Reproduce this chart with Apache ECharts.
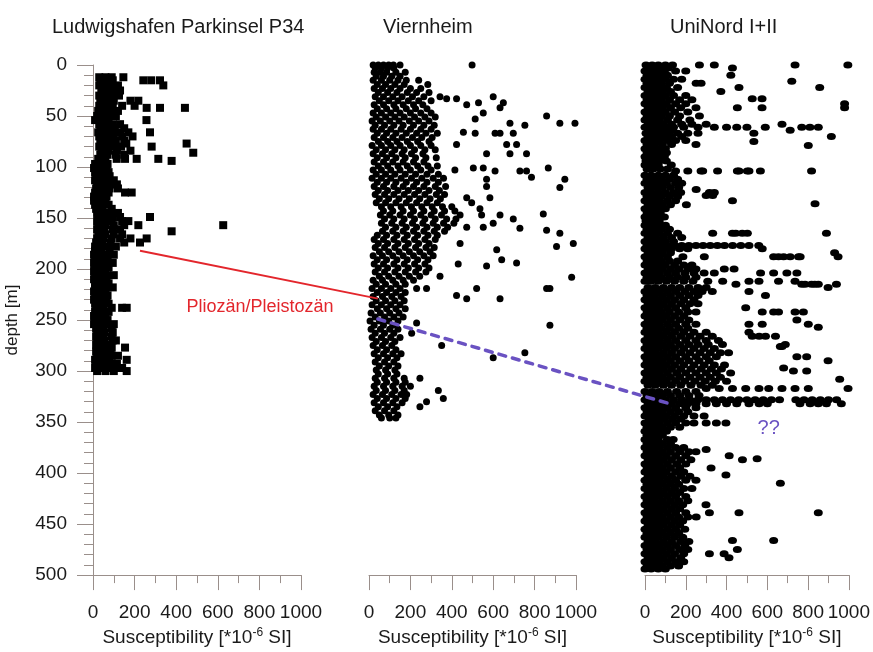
<!DOCTYPE html>
<html>
<head>
<meta charset="utf-8">
<title>Susceptibility logs</title>
<script src="https://cdn.jsdelivr.net/npm/echarts@6/dist/echarts.min.js"></script>
<style>
  html, body { margin: 0; padding: 0; background: #fff; }
  #myChart { width: 873px; height: 652px; }
</style>
</head>
<body>
<div id="myChart"></div>
<script>
// borehole names (panel titles)
var wellNames = ['Ludwigshafen Parkinsel P34', 'Viernheim', 'UniNord I+II']
var depthTicks = { min: 0, max: 500, step: 50 }
var suscTicks = { min: 0, max: 1000, step: 200 }

// rows: [depth m, susceptibility values ...]
var p34Rows = [
  [12, 30, 60, 90, 146], [15, 35, 65, 95, 242, 280, 322], [20, 30, 55, 85, 120, 338],
  [25, 40, 70, 100, 130], [30, 30, 60, 90, 125], [35, 35, 70, 100, 180, 218],
  [40, 30, 60, 95, 140, 200], [42, 258, 322, 442], [45, 25, 55, 85, 120],
  [50, 20, 50, 80, 110], [54, 10, 40, 75, 257], [58, 30, 60, 95, 130],
  [62, 35, 70, 105, 150], [66, 25, 60, 95, 130, 170, 274], [70, 30, 65, 100, 140, 190],
  [74, 40, 75, 110, 150], [77, 35, 70, 105, 160, 450], [80, 30, 65, 100, 135, 282],
  [84, 40, 75, 115, 180], [86, 482], [88, 35, 70, 110, 150],
  [92, 25, 60, 114, 154, 210, 314], [94, 378], [97, 10, 40, 70], [101, 5, 35, 65],
  [105, 10, 40, 75], [109, 15, 45, 80], [113, 10, 40, 70, 100], [117, 20, 50, 85, 115],
  [121, 15, 45, 80, 120], [125, 10, 40, 75, 154, 186], [129, 5, 35, 65], [133, 5, 30, 60],
  [137, 10, 40, 75], [141, 15, 45, 90], [145, 20, 55, 90, 120], [149, 25, 60, 95, 130, 274],
  [153, 20, 55, 90, 140, 170], [157, 25, 60, 100, 150, 218, 626], [161, 20, 55, 95, 130],
  [163, 378], [166, 25, 60, 100, 140], [170, 20, 50, 90, 130, 180, 258],
  [174, 15, 45, 85, 150, 226], [178, 10, 40, 75, 110], [182, 10, 40, 80],
  [186, 5, 35, 65, 100], [190, 10, 40, 70], [194, 5, 35, 65, 95], [198, 10, 40, 75],
  [202, 5, 35, 60], [206, 10, 40, 70, 100], [210, 5, 35, 65], [214, 10, 40, 75],
  [218, 10, 40, 70, 95], [222, 5, 35, 60], [226, 10, 40, 70], [230, 5, 35, 65],
  [234, 10, 40, 75], [238, 15, 50, 90, 140, 162], [242, 10, 40, 75], [246, 5, 35, 60],
  [250, 10, 40, 70], [254, 5, 35, 65, 100], [258, 15, 50, 90], [262, 20, 55, 95],
  [266, 15, 50, 90], [270, 20, 55, 95, 110], [274, 15, 50, 85], [277, 20, 55, 90, 154],
  [281, 15, 50, 85], [285, 20, 55, 90, 120], [289, 10, 45, 80, 162], [293, 15, 50, 85, 115],
  [297, 10, 40, 75, 110, 140], [300, 20, 60, 100, 162]
]

var viernheimRows = [
  [0, 20, 45, 70, 95, 118, 150, 498], [3, 30, 60, 90, 120], [7, 25, 55, 85, 130, 175],
  [11, 35, 70, 110, 150], [15, 20, 60, 100, 140, 180, 240], [19, 40, 80, 125, 170, 284],
  [23, 25, 65, 105, 150, 200, 250], [27, 45, 90, 135, 185, 230, 290],
  [31, 30, 70, 115, 160, 210, 265, 343, 600], [33, 375, 423], [35, 50, 95, 140, 190, 240, 300],
  [37, 529, 649], [39, 25, 70, 120, 165, 215, 260, 472], [42, 633],
  [43, 40, 85, 130, 180, 225, 280], [47, 20, 60, 105, 150, 200, 250, 300, 552], [50, 858],
  [51, 35, 80, 125, 170, 220, 270, 320], [53, 513], [55, 15, 55, 100, 145, 195, 240, 290],
  [57, 681, 922, 995], [59, 30, 75, 120, 165, 215, 265, 315, 753],
  [63, 20, 60, 105, 155, 200, 250, 300], [66, 456],
  [67, 40, 85, 130, 180, 230, 275, 330, 513, 609, 633, 697],
  [71, 25, 70, 115, 160, 210, 255, 305], [75, 45, 90, 135, 185, 235, 290], [78, 423, 665, 713],
  [79, 15, 60, 105, 150, 200, 250, 300], [83, 35, 80, 125, 170, 220, 270, 320],
  [87, 20, 65, 110, 160, 205, 260, 568, 681, 761], [91, 40, 85, 130, 175, 225, 275, 325],
  [95, 25, 70, 115, 165, 215, 265], [99, 45, 90, 140, 185, 235, 285, 330], [101, 504, 552, 866],
  [103, 20, 60, 105, 150, 200, 250, 300, 415], [104, 609, 729, 761],
  [107, 35, 80, 125, 175, 225, 280, 335], [110, 785], [111, 15, 60, 105, 155, 205, 255, 310, 360],
  [112, 568, 946], [115, 40, 85, 130, 180, 230, 280, 335],
  [119, 25, 70, 120, 165, 215, 265, 320, 370, 568], [120, 922],
  [123, 45, 90, 140, 190, 240, 290, 340], [127, 30, 75, 120, 170, 220, 270, 325, 365],
  [130, 472, 584], [131, 50, 95, 145, 195, 245, 295, 345],
  [135, 35, 80, 130, 180, 230, 280, 330, 496], [139, 60, 105, 155, 205, 255, 305, 355, 400],
  [141, 536], [143, 70, 115, 165, 215, 265, 315, 365, 415], [146, 842],
  [147, 55, 100, 150, 200, 250, 300, 350, 440, 544, 633],
  [151, 75, 120, 170, 220, 270, 320, 375, 420, 697],
  [155, 60, 110, 160, 210, 260, 310, 360, 410, 600],
  [159, 80, 130, 180, 230, 280, 330, 380, 472, 552], [160, 729], [162, 858],
  [163, 65, 115, 165, 215, 265, 315, 365], [165, 922], [167, 40, 85, 135, 185, 235, 285, 330],
  [171, 25, 70, 120, 170, 220, 270, 320], [175, 45, 90, 140, 190, 240, 290, 440, 987],
  [178, 906], [179, 30, 75, 125, 175, 225, 275, 315], [181, 617],
  [183, 50, 95, 145, 195, 245, 295], [187, 20, 65, 115, 165, 215, 265, 310],
  [191, 40, 85, 135, 185, 235, 285, 641], [194, 713], [195, 25, 70, 120, 170, 220, 270, 431],
  [197, 568], [199, 45, 90, 140, 190, 240, 290], [203, 30, 75, 125, 175, 225, 275],
  [207, 50, 95, 145, 195, 245, 343], [208, 979], [211, 20, 65, 115, 165, 215],
  [215, 35, 80, 130, 175], [219, 15, 60, 105, 150, 230, 278, 520, 858, 874],
  [223, 40, 85, 130, 175], [226, 423], [227, 20, 65, 110, 155], [229, 472, 633],
  [231, 35, 80, 125, 170], [235, 15, 60, 105, 150], [239, 40, 85, 130, 175],
  [243, 10, 55, 100, 145], [247, 30, 75, 120, 165], [251, 5, 50, 95, 140], [253, 230],
  [255, 25, 70, 115, 874], [259, 10, 55, 100, 140], [263, 30, 75, 120, 206],
  [267, 15, 60, 105, 150], [271, 35, 80, 125], [275, 20, 65, 110, 351], [279, 40, 85, 130],
  [282, 753], [283, 25, 70, 115, 155], [287, 45, 90, 135, 600], [291, 30, 75, 120],
  [295, 50, 95, 140], [299, 35, 80, 125], [303, 45, 90, 135], [307, 30, 75, 120, 170, 246],
  [311, 40, 85, 130, 175], [315, 25, 70, 115, 160, 200], [319, 35, 80, 125, 170, 335],
  [323, 20, 65, 110, 155, 182], [327, 40, 85, 130, 175, 359], [330, 278],
  [331, 25, 70, 115, 160], [335, 45, 90, 135, 246], [339, 30, 75, 120], [343, 50, 95, 140],
  [346, 60, 100, 130]
]

var uniNordRows = [
  [0, 5, 35, 65, 100, 135, 267, 340, 736, 995], [3, 15, 45, 80, 115, 429],
  [6, 0, 30, 60, 95, 150, 200], [10, 10, 40, 75, 110, 421], [14, 0, 30, 65, 100, 140, 180],
  [16, 720], [18, 10, 45, 80, 120, 251, 275], [22, 0, 35, 70, 105, 160, 461, 857],
  [26, 15, 50, 85, 125, 372], [30, 0, 30, 65, 100, 140, 200], [33, 526, 574],
  [34, 10, 45, 80, 120, 170, 230], [38, 0, 35, 70, 105, 150, 200, 979],
  [42, 15, 50, 85, 125, 175, 250, 453, 574, 979], [46, 0, 30, 65, 100, 145, 210],
  [50, 10, 45, 80, 120, 170, 267], [54, 0, 35, 70, 110, 160, 220],
  [58, 15, 50, 90, 130, 180, 230, 300, 672],
  [61, 0, 30, 65, 100, 140, 190, 260, 340, 400, 450, 500, 590, 769, 809, 850],
  [64, 20, 55, 95, 130, 712], [67, 5, 40, 75, 115, 160, 210, 260, 534],
  [70, 15, 50, 90, 130, 180, 914], [74, 0, 35, 70, 110, 150, 200], [75, 534],
  [78, 10, 45, 85, 130, 250], [79, 801], [82, 0, 30, 65, 100], [86, 10, 40, 75, 105],
  [90, 0, 30, 60, 95], [94, 5, 35, 70, 105], [98, 0, 30, 65, 129], [102, 10, 40, 75, 110],
  [104, 150, 210, 275, 283, 356, 453, 461, 502, 510, 566, 817],
  [108, 0, 30, 65, 100, 140], [112, 10, 45, 80, 120, 160], [116, 0, 35, 70, 105, 150, 180],
  [120, 15, 50, 85, 125, 165], [122, 251], [125, 0, 30, 65, 100, 140, 175, 316, 340],
  [128, 300, 332], [129, 10, 45, 80, 120, 160], [133, 0, 35, 70, 110, 150, 429], [136, 834],
  [137, 15, 50, 85, 125, 203], [141, 0, 30, 65, 100], [145, 10, 40, 75], [149, 0, 30, 60, 95],
  [153, 5, 35, 70], [157, 0, 30, 65, 100], [161, 10, 45, 80, 120],
  [165, 0, 35, 70, 110, 160, 332, 429, 445, 477, 502, 890], [169, 15, 50, 90, 130, 180],
  [173, 0, 30, 65, 100, 140],
  [177, 10, 40, 75, 110, 145, 180, 215, 250, 285, 320, 355, 390, 430, 470, 510, 558],
  [180, 0, 30, 60, 95, 130, 170, 210, 575], [184, 15, 50, 85, 125, 930],
  [188, 0, 35, 70, 110, 186, 291, 631, 655, 680, 712, 753, 761, 947],
  [192, 10, 45, 80, 120, 160], [196, 0, 30, 65, 100, 145, 190, 230],
  [200, 15, 50, 85, 125, 165, 210, 250, 389, 437],
  [204, 0, 35, 70, 110, 150, 195, 240, 290, 340, 567, 631, 696, 745],
  [208, 10, 45, 80, 120, 160, 200, 250],
  [212, 0, 30, 65, 105, 145, 190, 235, 308, 381, 510, 559, 655, 736],
  [215, 446, 769, 785, 817, 833, 850, 939], [218, 15, 50, 90, 130, 170, 215, 260, 300, 898],
  [222, 0, 35, 70, 110, 150, 195, 240, 280, 330, 510], [226, 10, 45, 85, 125, 170, 215, 260, 591],
  [230, 0, 30, 65, 105, 145, 190, 240], [234, 15, 50, 90, 130, 175, 220, 260],
  [238, 0, 35, 70, 110, 150, 200, 494],
  [242, 10, 45, 80, 120, 165, 210, 250, 575, 631, 655, 736, 777],
  [246, 0, 30, 65, 105, 145, 190], [250, 15, 50, 85, 125, 170, 215, 745],
  [254, 0, 35, 70, 110, 150, 200, 250, 510, 575, 801], [257, 850],
  [258, 10, 45, 80, 120, 165, 210], [262, 0, 30, 65, 105, 145, 190, 240, 300, 510],
  [266, 15, 50, 90, 130, 175, 220, 270, 330, 526, 560, 591, 640],
  [270, 0, 35, 70, 110, 150, 200, 250, 300, 360], [274, 10, 45, 85, 125, 170, 215, 260, 310, 380, 688],
  [276, 664, 672], [278, 0, 30, 65, 105, 145, 190, 240, 290, 340],
  [282, 15, 50, 90, 130, 175, 220, 270, 320, 370, 410],
  [286, 0, 35, 70, 110, 150, 200, 250, 300, 350, 745, 793],
  [290, 10, 45, 85, 125, 170, 215, 265, 315, 898],
  [294, 0, 30, 65, 105, 145, 190, 240, 290, 340, 390], [297, 680],
  [298, 15, 50, 90, 130, 175, 225, 275, 325, 375], [300, 728, 793],
  [302, 0, 35, 70, 110, 155, 200, 250, 300, 350, 420], [306, 10, 45, 85, 125, 170, 220, 270, 320, 370],
  [308, 955], [310, 0, 30, 65, 105, 150, 195, 245, 295, 345, 400],
  [314, 15, 50, 90, 130, 175, 225, 275, 330],
  [317, 300, 364, 429, 494, 559, 607, 672, 736, 801, 996],
  [320, 0, 35, 70, 110, 155, 200, 250], [324, 10, 45, 85, 125, 170, 215, 265],
  [328, 0, 30, 65, 100, 140, 180, 220, 260, 300, 340, 380, 420, 460, 500, 540, 580, 620, 660, 740, 780, 820, 860, 900, 940],
  [332, 15, 50, 90, 130, 170, 210, 250, 300, 350, 400, 450, 510, 560, 600, 760, 810, 850, 890, 963],
  [336, 0, 35, 70, 110, 150, 200, 250], [340, 10, 45, 85, 125, 165, 210],
  [344, 0, 30, 65, 105, 145, 190, 240, 290], [347, 20, 55, 95, 135, 175],
  [351, 0, 35, 70, 110, 150, 200, 240, 300, 350, 397], [355, 10, 45, 85, 125, 170],
  [359, 0, 30, 65, 105], [363, 10, 45, 85], [367, 0, 30, 65, 110, 138], [371, 10, 45, 85, 125],
  [375, 0, 35, 70, 110, 150, 190], [377, 300], [379, 10, 45, 85, 125, 170, 215, 250],
  [383, 0, 30, 65, 105, 150, 200, 413], [386, 550], [387, 15, 50, 90, 130, 175, 225, 478],
  [391, 0, 35, 70, 110, 155, 200], [395, 10, 45, 85, 125, 170, 324],
  [399, 0, 30, 65, 105, 150, 190], [402, 397], [403, 15, 50, 90, 130, 175, 220],
  [407, 0, 35, 70, 110, 150, 200, 250], [410, 664], [411, 10, 45, 85, 125, 165],
  [415, 0, 30, 65, 105, 145, 190, 230], [419, 15, 50, 90, 130, 170],
  [423, 0, 35, 70, 110, 150, 200], [427, 10, 45, 85, 125, 165, 210],
  [431, 0, 30, 65, 105, 145, 185, 299], [435, 15, 50, 90, 130, 170],
  [439, 0, 35, 70, 110, 150, 200, 316, 461, 850], [443, 10, 45, 85, 125, 165, 210, 251],
  [447, 0, 30, 65, 105, 145, 185], [451, 15, 50, 90, 130, 170], [455, 0, 35, 70, 110, 150, 195],
  [459, 10, 45, 85, 125, 165], [463, 0, 30, 65, 105, 145, 185], [466, 429, 631],
  [467, 15, 50, 90, 130, 175, 215], [471, 0, 35, 70, 110, 150, 195],
  [475, 10, 45, 85, 125, 170, 210, 453], [479, 0, 30, 65, 105, 145, 190, 316, 388],
  [483, 15, 50, 90, 130, 175, 412], [487, 0, 35, 70, 110, 150, 190],
  [491, 10, 45, 85, 125, 165], [494, 0, 30, 65, 100]
]

// correlation links: [susceptibility, depth] in the panel given by grid
var pliocenePleistocene = { from: [226, 182], fromGrid: 0, to: [43, 229], toGrid: 1, label: 'Pliozän/Pleistozän', labelAt: [803, 237], labelGrid: 0 }
var uncertainLink = { from: [43, 249], fromGrid: 1, to: [121, 332], toGrid: 2, label: '??', labelAt: [607, 356], labelGrid: 2 }

var FONT = 'Liberation Sans, Arial, sans-serif'
var AXIS_COLOR = '#9a8f8b'
var gridLeft = [93, 369, 645]
var gridWidth = [208, 207, 206]

function toPoints (rows) {
  var pts = []
  rows.forEach(function (r) {
    for (var i = 1; i < r.length; i++) pts.push([r[i], r[0]])
  })
  return pts
}

var option = {
  animation: false,
  backgroundColor: '#fff',
  title: wellNames.map(function (name, i) {
    return {
      text: name,
      left: [52, 383, 670][i],
      top: 17,
      padding: 0,
      textStyle: { fontFamily: FONT, fontSize: 20, fontWeight: 'normal', color: '#1a1a1a' }
    }
  }),
  grid: gridLeft.map(function (l, i) {
    return { left: l, top: 65, width: gridWidth[i], height: 519, containLabel: false }
  }),
  xAxis: [0, 1, 2].map(function (i) {
    return {
      type: 'value',
      gridIndex: i,
      position: 'bottom',
      min: suscTicks.min,
      max: suscTicks.max,
      interval: suscTicks.step,
      name: 'Susceptibility [*10{sup|-6} SI]',
      nameLocation: 'middle',
      nameGap: 48,
      nameTextStyle: {
        fontFamily: FONT, fontSize: 19, color: '#1a1a1a',
        rich: { sup: { fontFamily: FONT, fontSize: 12, color: '#1a1a1a', padding: [0, 0, 9, 0] } }
      },
      axisLine: { show: true, onZero: false, lineStyle: { color: AXIS_COLOR, width: 1 } },
      axisTick: { show: true, length: 15, lineStyle: { color: AXIS_COLOR } },
      minorTick: { show: true, splitNumber: 2, length: 8, lineStyle: { color: AXIS_COLOR } },
      axisLabel: {
        fontFamily: FONT, fontSize: 19, color: '#1a1a1a', margin: 28, hideOverlap: false,
        formatter: function (v) { return String(v) }
      },
      splitLine: { show: false }
    }
  }),
  yAxis: [0, 1, 2].map(function (i) {
    return {
      type: 'value',
      gridIndex: i,
      inverse: true,
      min: depthTicks.min,
      max: depthTicks.max,
      interval: depthTicks.step,
      show: i === 0,
      name: i === 0 ? 'depth [m]' : '',
      nameLocation: 'middle',
      nameGap: 72,
      nameTextStyle: { fontFamily: FONT, fontSize: 17, color: '#1a1a1a' },
      axisLine: { show: true, onZero: false, lineStyle: { color: AXIS_COLOR, width: 1 } },
      axisTick: { show: true, length: 16, lineStyle: { color: AXIS_COLOR } },
      minorTick: { show: true, splitNumber: 5, length: 9, lineStyle: { color: AXIS_COLOR } },
      axisLabel: { fontFamily: FONT, fontSize: 19, color: '#1a1a1a', margin: 26 },
      splitLine: { show: false }
    }
  }),
  series: [
    {
      name: wellNames[0], type: 'scatter', xAxisIndex: 0, yAxisIndex: 0,
      symbol: 'rect', symbolSize: 8, itemStyle: { color: '#000', opacity: 1 },
      silent: true, data: toPoints(p34Rows)
    },
    {
      name: wellNames[1], type: 'scatter', xAxisIndex: 1, yAxisIndex: 1,
      symbol: 'circle', symbolSize: 7, itemStyle: { color: '#000', opacity: 1 },
      silent: true, data: toPoints(viernheimRows)
    },
    {
      name: wellNames[2], type: 'scatter', xAxisIndex: 2, yAxisIndex: 2,
      symbol: 'circle', symbolSize: [9, 7], itemStyle: { color: '#000', opacity: 1 },
      silent: true, data: toPoints(uniNordRows)
    }
  ]
}

var myChart = echarts.init(document.getElementById('myChart'))
myChart.setOption(option)

// links between panels, placed through each panel's own scales
function linkGraphic (link, color, dash, width, fontSize) {
  var a = myChart.convertToPixel({ gridIndex: link.fromGrid }, link.from)
  var b = myChart.convertToPixel({ gridIndex: link.toGrid }, link.to)
  var t = myChart.convertToPixel({ gridIndex: link.labelGrid }, link.labelAt)
  return [
    {
      type: 'line', z: 100, silent: true,
      shape: { x1: a[0], y1: a[1], x2: b[0], y2: b[1] },
      style: { stroke: color, lineWidth: width, lineDash: dash, lineCap: dash ? 'round' : 'butt' }
    },
    {
      type: 'text', z: 100, silent: true, x: t[0], y: t[1],
      style: { text: link.label, fill: color, font: fontSize + 'px ' + FONT, align: 'center', verticalAlign: 'middle' }
    }
  ]
}

myChart.setOption({
  graphic: linkGraphic(pliocenePleistocene, '#e3262c', null, 2, 18)
    .concat(linkGraphic(uncertainLink, '#6a52c2', [7, 7], 3.5, 20))
})
</script>
</body>
</html>
